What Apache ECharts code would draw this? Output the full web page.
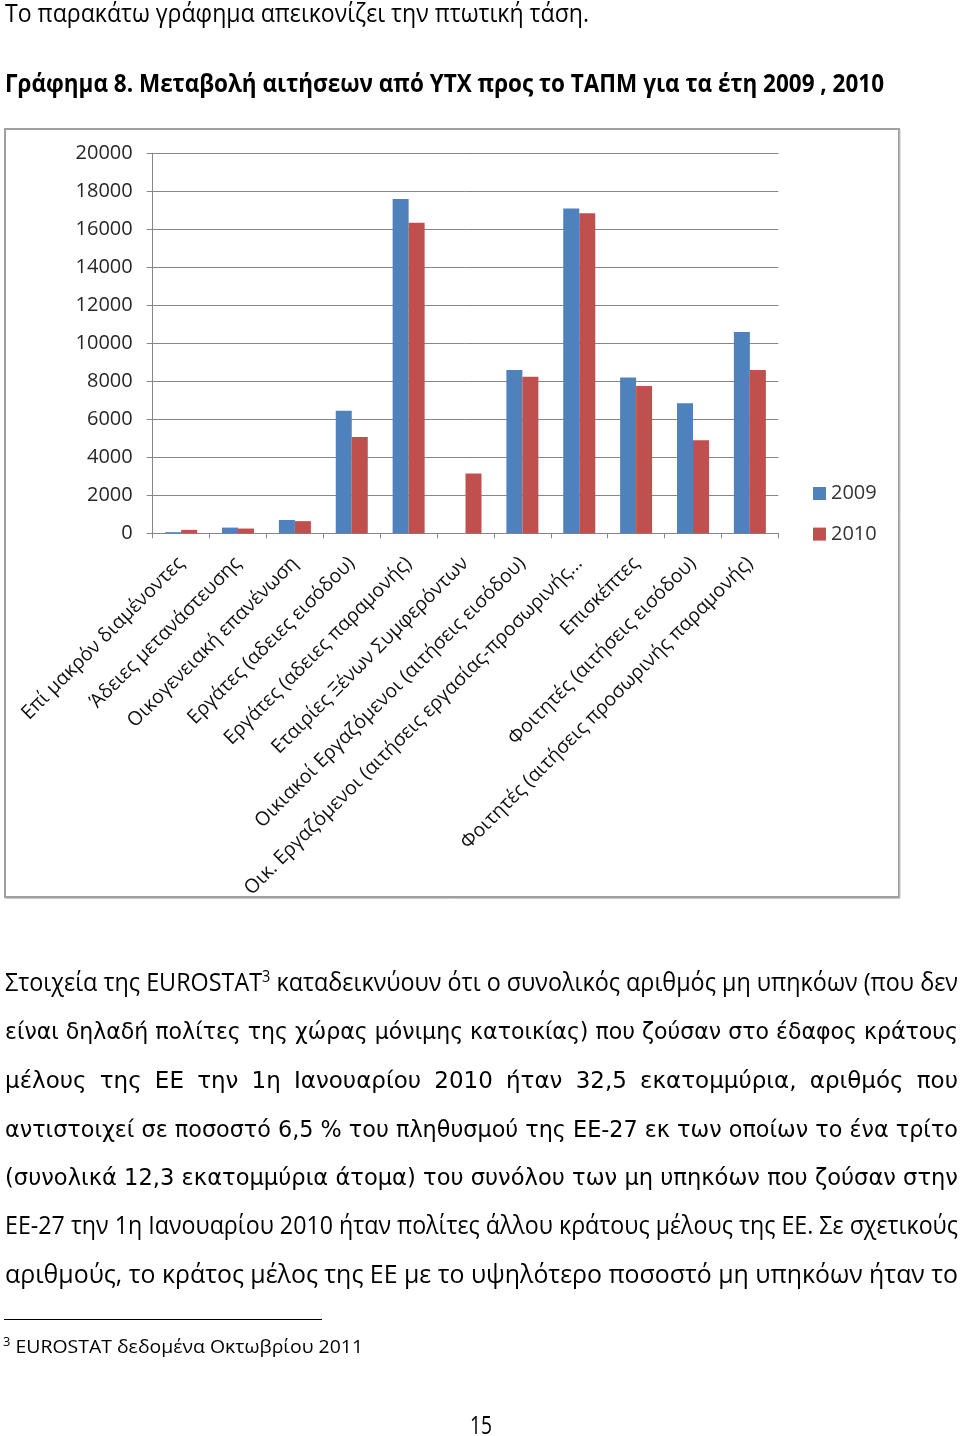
<!DOCTYPE html>
<html>
<head>
<meta charset="utf-8">
<script src="https://cdn.jsdelivr.net/npm/echarts@6/dist/echarts.min.js"></script>
<style>
html,body{margin:0;padding:0;background:#fff;}
#wrap{position:relative;width:960px;height:1436px;overflow:hidden;background:#fff;}
#chart{position:absolute;left:0;top:0;width:960px;height:1436px;}
#text{position:absolute;left:0;top:0;width:960px;height:1436px;pointer-events:none;}
.ln{position:absolute;white-space:nowrap;color:#000;transform-origin:0 0;}
.c{font-family:"Open Sans";font-size:25px;}
.cb{font-family:"Open Sans";font-size:25px;font-weight:bold;}
.d{font-family:"DejaVu Sans";font-size:23px;}
.f{font-family:"Open Sans";font-size:18px;}
.fs{font-family:"Open Sans";font-size:12px;position:relative;top:-7px;}
.mk{display:inline-block;width:0;height:0;vertical-align:baseline;}
sup{font-size:62%;}
#rule{position:absolute;left:4px;top:1318.5px;width:318px;height:1.5px;background:#000;}
</style>
</head>
<body>
<div id="wrap">
  <div id="chart"></div>
  <div id="text"></div>
  <div id="rule"></div>
</div>
<script>
// ---- chart data ----
const categories = [
  'Επί μακρόν διαμένοντες',
  'Άδειες μετανάστευσης',
  'Οικογενειακή επανένωση',
  'Εργάτες (αδειες εισόδου)',
  'Εργάτες (αδειες παραμονής)',
  'Εταιρίες Ξένων Συμφερόντων',
  'Οικιακοί Εργαζόμενοι (αιτήσεις εισόδου)',
  'Οικ. Εργαζόμενοι (αιτήσεις εργασίας-προσωρινής...',
  'Επισκέπτες',
  'Φοιτητές (αιτήσεις εισόδου)',
  'Φοιτητές (αιτήσεις προσωρινής παραμονής)'
];
const seriesNames = ['2009', '2010'];
const values2009 = [60, 300, 700, 6450, 17600, 0, 8600, 17100, 8200, 6850, 10600];
const values2010 = [180, 250, 640, 5070, 16350, 3150, 8240, 16850, 7750, 4900, 8600];
const yMin = 0, yMax = 20000, yStep = 2000;

// ---- page text ----
const textLines = [
  {segs: [['c', 'Το παρακάτω γράφημα απεικονίζει την πτωτική τάση.']], left: 5, width: 584, baseline: 22, justify: false},
  {segs: [['cb', 'Γράφημα 8. Μεταβολή αιτήσεων από ΥΤΧ προς το ΤΑΠΜ για τα έτη 2009 , 2010']], left: 5, width: 879, baseline: 92, justify: false},
  {segs: [['c', 'Στοιχεία της EUROSTAT<sup>3</sup> καταδεικνύουν ότι ο συνολικός αριθμός μη υπηκόων (που δεν']], left: 5, width: 953, baseline: 990.5, justify: true},
  {segs: [['d', 'είναι δηλαδή πολίτες της χώρας μόνιμης κατοικίας) που ζούσαν στο έδαφος κράτους']], left: 5, width: 953, baseline: 1039.2, justify: true},
  {segs: [['d', 'μέλους της ΕΕ την 1η Ιανουαρίου 2010 ήταν 32,5 εκατομμύρια, αριθμός που']], left: 5, width: 953, baseline: 1087.8, justify: true},
  {segs: [['d', 'αντιστοιχεί σε ποσοστό 6,5 % του πληθυσμού της ΕΕ-27 εκ των οποίων το ένα τρίτο']], left: 5, width: 953, baseline: 1136.5, justify: true},
  {segs: [['d', '(συνολικά 12,3 εκατομμύρια άτομα) του συνόλου των μη υπηκόων που ζούσαν στην']], left: 5, width: 953, baseline: 1185.2, justify: true},
  {segs: [['c', 'ΕΕ-27 την 1η Ιανουαρίου 2010 ήταν πολίτες άλλου κράτους μέλους της ΕΕ. Σε σχετικούς']], left: 5, width: 953, baseline: 1233.8, justify: true},
  {segs: [['c', 'αριθμούς, το κράτος μέλος της ΕΕ με το υψηλότερο ποσοστό μη υπηκόων ήταν το']], left: 5, width: 953, baseline: 1282.5, justify: true},
  {segs: [['fs', '3'], ['f', ' EUROSTAT δεδομένα Οκτωβρίου 2011']], left: 3, width: 360, baseline: 1353, justify: false},
  {segs: [['c', '15']], left: 470, width: 22, baseline: 1434, justify: false}
];

const holder = document.getElementById('text');
function layoutText() {
  holder.innerHTML = '';
  const wrapTop = document.getElementById('wrap').getBoundingClientRect().top;
  textLines.forEach(L => {
    const div = document.createElement('div');
    div.className = 'ln';
    div.style.left = L.left + 'px';
    div.style.top = '0px';
    div.innerHTML = L.segs.map(s => '<span class="' + s[0] + '">' + s[1] + '</span>').join('') + '<span class="mk"></span>';
    holder.appendChild(div);
    const w = div.getBoundingClientRect().width;
    if (L.justify && w < L.width) {
      const n = (div.textContent.match(/ /g) || []).length;
      if (n > 0) div.style.wordSpacing = ((L.width - w) / n) + 'px';
    } else if (w > 0) {
      div.style.transform = 'scaleX(' + (L.width / w) + ')';
    }
    const mk = div.querySelector('.mk').getBoundingClientRect().top - wrapTop;
    div.style.top = (L.baseline - mk) + 'px';
  });
}

// ---- chart ----
const chart = echarts.init(document.getElementById('chart'), null, {renderer: 'canvas'});
const axisGray = '#868686';
chart.setOption({
  animation: false,
  textStyle: {fontFamily: 'Open Sans'},
  graphic: [
    {type: 'rect', z: -1, silent: true,
     shape: {x: 5, y: 129, width: 894, height: 768},
     style: {fill: 'none', stroke: '#a0a0a0', lineWidth: 2}},
    {type: 'line', silent: true,
     shape: {x1: 900, y1: 129, x2: 900, y2: 898},
     style: {stroke: '#c8c8c8', lineWidth: 1}},
    {type: 'line', silent: true,
     shape: {x1: 5, y1: 898.5, x2: 900, y2: 898.5},
     style: {stroke: '#c8c8c8', lineWidth: 1}}
  ],
  grid: {left: 152.7, right: 181.7, top: 153.3, bottom: 902.7, containLabel: false, outerBoundsMode: 'none'},
  legend: {
    orient: 'vertical',
    left: 813, top: 483.5,
    padding: 0,
    itemWidth: 13, itemHeight: 13, itemGap: 20.6,
    icon: 'rect',
    data: seriesNames,
    textStyle: {fontSize: 20, lineHeight: 20, color: '#333333', fontFamily: 'Open Sans'}
  },
  xAxis: {
    type: 'category',
    data: categories,
    axisLine: {lineStyle: {color: axisGray, width: 1}},
    axisTick: {show: true, length: 5, lineStyle: {color: axisGray}},
    axisLabel: {interval: 0, rotate: 45, margin: 27, fontSize: 19.5, color: '#111111', fontFamily: 'Open Sans'}
  },
  yAxis: {
    type: 'value',
    min: yMin, max: yMax, interval: yStep,
    axisLine: {show: true, lineStyle: {color: axisGray, width: 1}},
    axisTick: {show: true, length: 6, lineStyle: {color: axisGray}},
    splitLine: {show: true, lineStyle: {color: axisGray, width: 1}},
    axisLabel: {fontSize: 20, color: '#262626', margin: 20, fontFamily: 'Open Sans',
                formatter: v => String(v)}
  },
  series: [
    {name: seriesNames[0], type: 'bar', data: values2009, barWidth: 16, barGap: '0%',
     itemStyle: {color: '#4F81BD'}},
    {name: seriesNames[1], type: 'bar', data: values2010, barWidth: 16, barGap: '0%',
     itemStyle: {color: '#C0504D'}}
  ]
});

if (document.fonts && document.fonts.ready) {
  document.fonts.ready.then(layoutText);
}
layoutText();
</script>
</body>
</html>
